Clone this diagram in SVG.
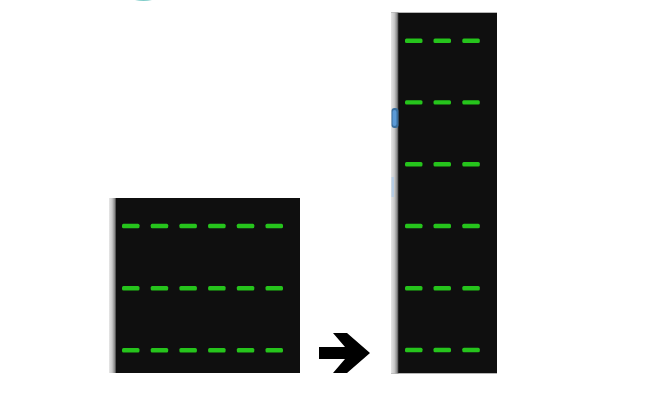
<svg xmlns="http://www.w3.org/2000/svg" width="665" height="417" viewBox="0 0 665 417">
<defs>
<linearGradient id="edge" x1="0" y1="0" x2="1" y2="0">
<stop offset="0" stop-color="#e6e6e6"/>
<stop offset="0.45" stop-color="#c8c8c8"/>
<stop offset="0.8" stop-color="#8a8a8a"/>
<stop offset="1" stop-color="#3a3a3a"/>
</linearGradient>
<filter id="glow" x="-20%" y="-60%" width="140%" height="220%">
<feGaussianBlur stdDeviation="0.7"/>
</filter>
<g id="dash"><rect x="0" y="-2.2" width="17.5" height="4.4" rx="1.5" class="d"/></g>
</defs>
<style>
.bg{fill:#0f0f0f}
.d{fill:#25c41c}
.dashes{filter:url(#glow)}
</style>
<rect width="665" height="417" fill="#ffffff"/>
<path d="M135 0 Q143.5 2 152 0 Z" fill="#5fbfbb" opacity="0.8"/>
<g id="before">
<rect x="109" y="198" width="191" height="175" class="bg"/>
<rect x="109" y="198" width="7" height="175" fill="url(#edge)"/>
<g class="dashes">
<use href="#dash" x="122" y="226"/><use href="#dash" x="150.7" y="226"/><use href="#dash" x="179.4" y="226"/><use href="#dash" x="208.1" y="226"/><use href="#dash" x="236.8" y="226"/><use href="#dash" x="265.5" y="226"/>
<use href="#dash" x="122" y="288.3"/><use href="#dash" x="150.7" y="288.3"/><use href="#dash" x="179.4" y="288.3"/><use href="#dash" x="208.1" y="288.3"/><use href="#dash" x="236.8" y="288.3"/><use href="#dash" x="265.5" y="288.3"/>
<use href="#dash" x="122" y="350.3"/><use href="#dash" x="150.7" y="350.3"/><use href="#dash" x="179.4" y="350.3"/><use href="#dash" x="208.1" y="350.3"/><use href="#dash" x="236.8" y="350.3"/><use href="#dash" x="265.5" y="350.3"/>
</g>
</g>
<g id="connectors">
<polygon points="319,347 345,347 333,333 347,333 370,353 347,373 333,373 345,359 319,359" fill="#000000"/>
</g>
<g id="after">
<rect x="391" y="12.7" width="106" height="360.6" class="bg"/>
<rect x="391" y="12.7" width="7.5" height="360.6" fill="url(#edge)"/>
<rect x="391.5" y="108" width="7" height="20" rx="3" fill="#3a6f9e"/>
<rect x="392.5" y="110" width="4" height="16" rx="2" fill="#5b9ad6"/>
<rect x="391.5" y="177" width="2.5" height="20" fill="#a9c9ea" opacity="0.7"/>
<g class="dashes">
<use href="#dash" x="405" y="40.7"/><use href="#dash" x="433.5" y="40.7"/><use href="#dash" x="462.3" y="40.7"/>
<use href="#dash" x="405" y="102.4"/><use href="#dash" x="433.5" y="102.4"/><use href="#dash" x="462.3" y="102.4"/>
<use href="#dash" x="405" y="164.3"/><use href="#dash" x="433.5" y="164.3"/><use href="#dash" x="462.3" y="164.3"/>
<use href="#dash" x="405" y="226"/><use href="#dash" x="433.5" y="226"/><use href="#dash" x="462.3" y="226"/>
<use href="#dash" x="405" y="288.3"/><use href="#dash" x="433.5" y="288.3"/><use href="#dash" x="462.3" y="288.3"/>
<use href="#dash" x="405" y="350"/><use href="#dash" x="433.5" y="350"/><use href="#dash" x="462.3" y="350"/>
</g>
</g>
</svg>
